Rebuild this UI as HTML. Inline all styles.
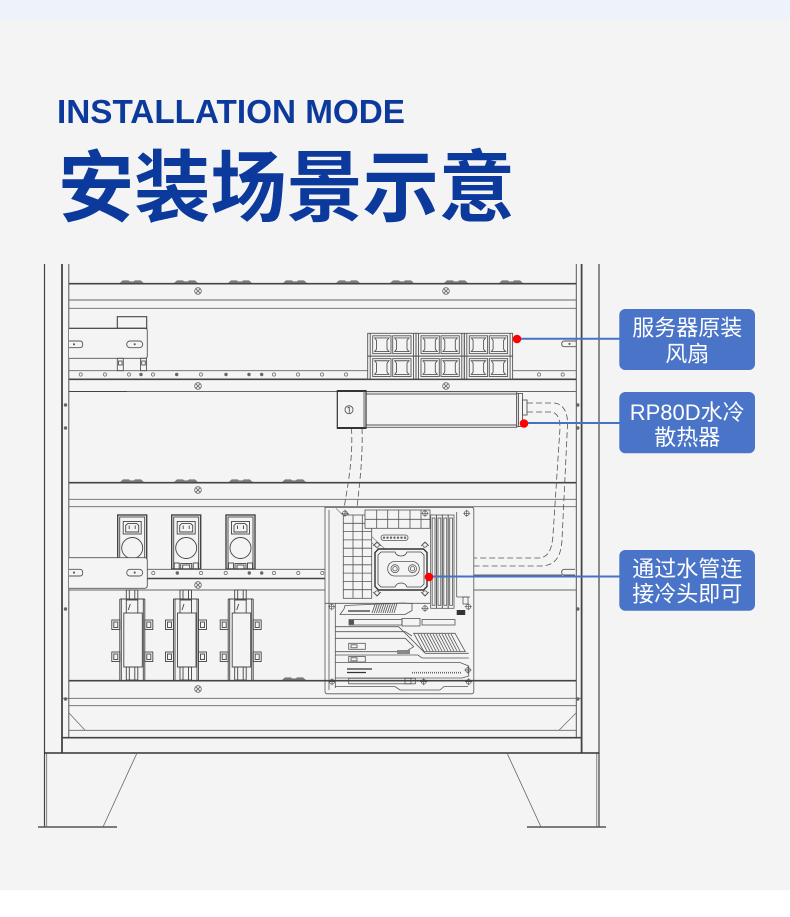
<!DOCTYPE html>
<html><head><meta charset="utf-8">
<style>
html,body{margin:0;padding:0;background:#f4f4f4;}
svg{display:block;}
</style></head>
<body>
<svg width="790" height="917" viewBox="0 0 790 917" xmlns="http://www.w3.org/2000/svg" xmlns:xlink="http://www.w3.org/1999/xlink">
<defs>
 <g id="scr" fill="none" stroke="#666" stroke-width="0.8"><circle r="3.3"/><path d="M-2.2,-2.2L2.2,2.2M-2.2,2.2L2.2,-2.2"/></g>
 <g id="pl" fill="none" stroke="#555" stroke-width="0.7"><circle r="2.4"/><path d="M-3.6,0H3.6M0,-3.6V3.6"/></g>
 <path id="bump" d="M-12,0 L-9,-2.6 L-3,-2.6 L-2,-1.6 L2,-1.6 L3,-2.6 L9,-2.6 L12,0 Z" fill="#7a7a7a"/>
 <g id="pdot"><circle r="1.7" fill="#666"/></g>
 <g id="hole"><circle r="1.6" fill="none" stroke="#666" stroke-width="0.7"/></g>
 <g id="fan" fill="none" stroke="#555" stroke-width="0.9">
   <rect x="0" y="0" width="48.3" height="22.85"/>
   <line x1="2.5" y1="0" x2="2.5" y2="22.85"/>
   <line x1="45.8" y1="0" x2="45.8" y2="22.85"/>
   <rect x="5" y="2.5" width="18.3" height="17.85"/>
   <rect x="25" y="2.5" width="18.3" height="17.85"/>
   <path d="M7,4.6 L21.3,4.6 L19.3,7 L19.3,15.9 L21.3,18.3 L7,18.3 L8.8,15.9 L8.8,7 Z"/>
   <path d="M27,4.6 L41.3,4.6 L39.3,7 L39.3,15.9 L41.3,18.3 L27,18.3 L28.8,15.9 L28.8,7 Z"/>
 </g>
 <g id="sock" stroke="#444" fill="none" stroke-width="0.9">
   <rect x="0" y="0" width="29" height="54" fill="#f4f4f4" stroke-width="1.4"/>
   <rect x="2" y="2" width="25" height="52"/>
   <rect x="5.5" y="6.5" width="18" height="12.5"/>
   <path d="M8,17 V10.5 L10,8.6 H19 L21,10.5 V17 Z"/>
   <path d="M11.5,10.5 V14 M17.5,10.5 V14"/>
   <circle cx="14.5" cy="33" r="10.5"/>
   <rect x="2.5" y="48" width="5" height="6"/>
   <rect x="21.5" y="48" width="5" height="6"/>
   <rect x="9" y="48.5" width="11" height="5.5"/>
   <rect x="11" y="50" width="7" height="4"/>
 </g>
 <g id="mod" stroke="#444" fill="none" stroke-width="0.9">
   <rect x="-6" y="0" width="11.5" height="10" fill="#f4f4f4"/>
   <path d="M-3,0 V10 M2.5,0 V10"/>
   <path d="M-12.5,9 H12.5 M-12.5,9 V90 M-11,9 V90 M11,9 V90 M12.5,9 V90"/>
   <rect x="-8.5" y="23" width="18.5" height="54"/>
   <path d="M-6,10 V23 M5.5,10 V23 M-2,14 L-4,20"/>
   <rect x="-20.5" y="30" width="8" height="9.5"/><rect x="-18.5" y="32" width="4" height="5.5"/>
   <rect x="-20.5" y="62" width="8" height="9.5"/><rect x="-18.5" y="64" width="4" height="5.5"/>
   <rect x="12.5" y="30" width="8" height="9.5"/><rect x="14.5" y="32" width="4" height="5.5"/>
   <rect x="12.5" y="62" width="8" height="9.5"/><rect x="14.5" y="64" width="4" height="5.5"/>
   <rect x="-6" y="77" width="11.5" height="13"/>
   <path d="M-3,77 V90 M2.5,77 V90"/>
 </g>
</defs>

<!-- backgrounds -->
<rect x="0" y="0" width="790" height="917" fill="#f4f4f4"/>
<rect x="0" y="0" width="790" height="19" fill="#eef3fb"/>
<rect x="0" y="890" width="790" height="27" fill="#ffffff"/>

<!-- title -->
<text x="57" y="123" font-family="Liberation Sans, sans-serif" font-weight="bold" font-size="33" fill="#0c3a9c" textLength="348" lengthAdjust="spacingAndGlyphs">INSTALLATION MODE</text>
<text x="58" y="215" font-family="Liberation Sans, Noto Sans CJK SC, sans-serif" font-weight="bold" font-size="78" fill="#0c3a9c" textLength="457" lengthAdjust="spacingAndGlyphs">安装场景示意</text>

<!-- cabinet verticals -->
<g fill="none" stroke-linecap="butt">
 <line x1="44.5" y1="264" x2="44.5" y2="827" stroke="#444" stroke-width="1.2"/>
 <line x1="46.7" y1="753" x2="46.7" y2="827" stroke="#666" stroke-width="0.8"/>
 <line x1="62" y1="264" x2="62" y2="753" stroke="#444" stroke-width="1.8"/>
 <line x1="68.8" y1="264" x2="68.8" y2="738" stroke="#555" stroke-width="1"/>
 <line x1="576.3" y1="264" x2="576.3" y2="738" stroke="#555" stroke-width="1"/>
 <line x1="581.6" y1="264" x2="581.6" y2="753" stroke="#444" stroke-width="1.8"/>
 <line x1="599" y1="264" x2="599" y2="827" stroke="#444" stroke-width="1.2"/>
 <line x1="596.8" y1="753" x2="596.8" y2="827" stroke="#666" stroke-width="0.8"/>
 <line x1="44" y1="753" x2="599.5" y2="753" stroke="#333" stroke-width="1.6"/>
 <!-- feet -->
 <line x1="137" y1="753" x2="103" y2="827" stroke="#666" stroke-width="0.8"/>
 <line x1="507" y1="753" x2="541" y2="827" stroke="#666" stroke-width="0.8"/>
 <line x1="38" y1="827" x2="117" y2="827" stroke="#555" stroke-width="1.6"/>
 <line x1="527" y1="827" x2="606" y2="827" stroke="#555" stroke-width="1.6"/>
</g>

<!-- horizontal lines -->
<g stroke="#666" stroke-width="0.9" fill="none">
 <line x1="69" y1="300" x2="576" y2="300"/>
 <line x1="69" y1="308.3" x2="576" y2="308.3"/>
 <line x1="69" y1="370.7" x2="576" y2="370.7"/>
 <line x1="69" y1="391.5" x2="576" y2="391.5"/>
 <line x1="69" y1="499.3" x2="576" y2="499.3"/>
 <line x1="69" y1="506.7" x2="576" y2="506.7"/>
 <line x1="69" y1="590" x2="576" y2="590"/>
 <line x1="474" y1="575" x2="562" y2="575"/>
 <line x1="62" y1="698.3" x2="581" y2="698.3"/>
 <line x1="69" y1="705.7" x2="576" y2="705.7"/>
 <line x1="69" y1="730.3" x2="576" y2="730.3"/>
 <line x1="69" y1="713" x2="85" y2="730.3" stroke-width="0.7"/>
 <line x1="576" y1="713" x2="559" y2="730.3" stroke-width="0.7"/>
</g>
<g stroke="#444" stroke-width="1.6" fill="none">
 <line x1="69" y1="283.7" x2="576" y2="283.7"/>
 <line x1="69" y1="379.3" x2="576" y2="379.3"/>
 <line x1="69" y1="482.7" x2="576" y2="482.7"/>
 <line x1="62" y1="737.7" x2="581" y2="737.7"/>
 <line x1="69" y1="391.5" x2="127" y2="391.5" stroke-width="1"/>
</g>

<!-- bumps -->
<use xlink:href="#bump" x="131.7" y="283"/><use xlink:href="#bump" x="186" y="283"/><use xlink:href="#bump" x="240" y="283"/><use xlink:href="#bump" x="295" y="283"/>
<use xlink:href="#bump" x="348" y="283"/><use xlink:href="#bump" x="402" y="283"/><use xlink:href="#bump" x="456" y="283"/><use xlink:href="#bump" x="511" y="283"/>
<use xlink:href="#bump" x="132" y="482"/><use xlink:href="#bump" x="186" y="482"/><use xlink:href="#bump" x="240.7" y="482"/><use xlink:href="#bump" x="294" y="482"/>
<use xlink:href="#bump" x="294" y="680"/>

<!-- screws -->
<use xlink:href="#scr" x="198" y="291"/><use xlink:href="#scr" x="446" y="291"/>
<use xlink:href="#scr" x="198" y="386"/><use xlink:href="#scr" x="446" y="386"/>
<use xlink:href="#scr" x="198" y="490"/>
<use xlink:href="#scr" x="198" y="585"/>
<use xlink:href="#scr" x="198" y="689"/>
<use xlink:href="#pdot" x="65.5" y="405"/><use xlink:href="#pdot" x="65.5" y="428"/><use xlink:href="#pdot" x="65.5" y="609"/><use xlink:href="#pdot" x="65.5" y="699"/>
<use xlink:href="#pdot" x="577.8" y="405"/><use xlink:href="#pdot" x="577.8" y="428"/><use xlink:href="#pdot" x="577.8" y="609"/><use xlink:href="#pdot" x="577.8" y="699"/>

<!-- upper rail holes -->
<g>
 <use xlink:href="#hole" x="80.7" y="374.5"/><use xlink:href="#hole" x="105" y="374.5"/><use xlink:href="#hole" x="129" y="374.5"/>
 <use xlink:href="#pdot" x="141" y="374.5"/><use xlink:href="#hole" x="153" y="374.5"/><use xlink:href="#pdot" x="176.7" y="374.5"/>
 <use xlink:href="#hole" x="201" y="374.5"/><use xlink:href="#pdot" x="226" y="374.5"/><use xlink:href="#pdot" x="249" y="374.5"/>
 <use xlink:href="#pdot" x="261.7" y="374.5"/><use xlink:href="#hole" x="274" y="374.5"/><use xlink:href="#hole" x="298" y="374.5"/>
 <use xlink:href="#hole" x="322" y="374.5"/><use xlink:href="#hole" x="346" y="374.5"/><use xlink:href="#hole" x="539" y="374.5"/><use xlink:href="#hole" x="562.7" y="374.5"/>
</g>

<!-- upper left bracket -->
<g fill="none" stroke="#555" stroke-width="0.9">
 <rect x="117.3" y="316.7" width="29.4" height="11.6" stroke="#444" stroke-width="1.1"/>
 <path d="M69,328.3 H145 Q147.3,328.3 147.3,331 V355.5 Q147.3,358.3 145,358.3 H69" fill="#f4f4f4" stroke="#555"/>
 <line x1="69" y1="328.3" x2="147.3" y2="328.3" stroke="#444" stroke-width="1.1"/>
 <rect x="117.3" y="358.3" width="6" height="12.4"/><rect x="118.5" y="361" width="3.6" height="4"/>
 <rect x="140.5" y="358.3" width="6" height="12.4"/><rect x="141.7" y="361" width="3.6" height="4"/>
 <path d="M69,341 H80 Q82.7,341 82.7,344.3 Q82.7,347.7 80,347.7 H69"/>
 <rect x="126.7" y="341" width="16" height="6.7" rx="3.3"/>
 <circle cx="134.7" cy="344.3" r="0.6" fill="#555"/>
 <circle cx="74" cy="344.3" r="0.6" fill="#555"/>
 <path d="M576,341 H564.5 Q561.7,341 561.7,343.9 Q561.7,346.7 564.5,346.7 H576"/>
 <circle cx="569.5" cy="343.9" r="0.6" fill="#555"/>
</g>

<!-- fans -->
<rect x="367.7" y="333.3" width="144.9" height="45.7" fill="#f4f4f4"/>
<use xlink:href="#fan" x="367.7" y="333.3"/><use xlink:href="#fan" x="416" y="333.3"/><use xlink:href="#fan" x="464.3" y="333.3"/>
<use xlink:href="#fan" x="367.7" y="356.15"/><use xlink:href="#fan" x="416" y="356.15"/><use xlink:href="#fan" x="464.3" y="356.15"/>

<!-- hoses -->
<g fill="none" stroke="#555" stroke-width="0.8" stroke-dasharray="6 3">
 <path d="M351.5,428 C353,455 349,480 344,508"/>
 <path d="M362,428 C363,455 360,480 357,508"/>
 <path d="M527,403 L553,403 C563,403 568,412 567.5,425 L562,540 C561,556 556,566 540,566 L474,566"/>
 <path d="M527,412 L550,412 C557,412 560,418 560,428 L553,535 C552,550 548,558 538,558 L474,558"/>
</g>

<!-- radiator -->
<g fill="none" stroke="#555" stroke-width="0.9">
 <rect x="366" y="391.7" width="150.7" height="35.6" fill="#f4f4f4"/>
 <line x1="366" y1="394" x2="516.7" y2="394"/>
 <line x1="366" y1="425" x2="516.7" y2="425"/>
 <rect x="337.3" y="390.7" width="28.7" height="37.6" fill="#f4f4f4" stroke="#333" stroke-width="1.2"/>
 <line x1="337.3" y1="391" x2="366" y2="391" stroke="#333" stroke-width="2"/>
 <line x1="337.3" y1="428" x2="366" y2="428" stroke="#333" stroke-width="2"/>
 <line x1="364" y1="391" x2="364" y2="428"/>
 <circle cx="349" cy="409.7" r="4"/>
 <path d="M349.3,406.7 V412.7 M347.6,408 L349.3,406.7"/>
 <rect x="516.7" y="393.5" width="5.8" height="33" fill="#f4f4f4"/>
 <line x1="518.5" y1="393.5" x2="518.5" y2="426.5"/>
 <rect x="522.5" y="400" width="4.5" height="15"/>
</g>

<!-- power sockets -->
<use xlink:href="#sock" x="117.7" y="515"/>
<use xlink:href="#sock" x="171.7" y="515"/>
<use xlink:href="#sock" x="226" y="515"/>

<!-- lower rail band -->
<g fill="none" stroke="#555" stroke-width="0.9">
 <line x1="147" y1="569.3" x2="325" y2="569.3"/>
 <line x1="147" y1="578.5" x2="325" y2="578.5" stroke="#444" stroke-width="1.5"/>
</g>
<use xlink:href="#hole" x="153.3" y="573"/><use xlink:href="#pdot" x="177.3" y="573"/><use xlink:href="#hole" x="201" y="573"/>
<use xlink:href="#hole" x="225.7" y="573"/><use xlink:href="#pdot" x="249.3" y="573"/><use xlink:href="#pdot" x="261.7" y="573"/>
<use xlink:href="#hole" x="274" y="573"/><use xlink:href="#hole" x="298.3" y="573"/><use xlink:href="#hole" x="322.3" y="573"/>
<path d="M575,569.3 H564.5 Q561.7,569.3 561.7,572.2 Q561.7,575 564.5,575 H575" fill="none" stroke="#555" stroke-width="0.9"/>

<!-- lower left bracket -->
<g fill="none" stroke="#555" stroke-width="0.9">
 <path d="M69,557.7 H144.5 Q147.3,557.7 147.3,560.5 V585.5 Q147.3,588.3 144.5,588.3 H69" fill="#f4f4f4"/>
 <path d="M69,569.3 H80 Q82.7,569.3 82.7,572.6 Q82.7,576 80,576 H69"/>
 <rect x="126.7" y="569.3" width="16" height="6.7" rx="3.3"/>
 <circle cx="134.7" cy="572.6" r="0.6" fill="#555"/>
 <circle cx="74" cy="572.6" r="0.6" fill="#555"/>
</g>

<!-- fuse modules -->
<use xlink:href="#mod" x="132.3" y="590"/>
<use xlink:href="#mod" x="186" y="590"/>
<use xlink:href="#mod" x="240.7" y="590"/>

<!-- motherboard -->
<g stroke="#555" stroke-width="0.8" fill="none">
 <path d="M325,507.3 H471.5 Q473.8,507.3 473.8,509.6 V691.5 Q473.8,693.8 471.5,693.8 H327.3 Q325,693.8 325,691.5 Z" fill="#f4f4f4"/>
 <path d="M329,510 V690 M335.3,603 V688 M325,603.3 H430"/>
 <path d="M336,508.5 L393,563 M345,511 L388,552" stroke="#777" stroke-width="0.6"/>
 <!-- VRM grid -->
 <rect x="343.3" y="515" width="28.4" height="83.3" fill="#f4f4f4"/>
 <path d="M353,515 V598.3 M362.3,515 V598.3"/>
 <path d="M343.3,523.3 H371.7 M343.3,531.6 H371.7 M343.3,539.9 H371.7 M343.3,548.2 H371.7 M343.3,556.5 H371.7 M343.3,564.8 H371.7 M343.3,573.1 H371.7 M343.3,581.4 H371.7 M343.3,589.7 H371.7"/>
 <!-- top heatsink -->
 <rect x="365" y="510" width="65" height="18.3" fill="#f4f4f4"/>
 <path d="M365,519.3 H430 M376.7,510 V528.3 M387.7,510 V528.3 M398.7,510 V528.3 M410,510 V528.3 M421,510 V528.3"/>
 <!-- connector dots -->
 <rect x="381" y="535" width="27" height="5.4" rx="2.5"/>
 <g fill="#666" stroke="none">
  <circle cx="384" cy="537.7" r="1.2"/><circle cx="387.5" cy="537.7" r="1.2"/><circle cx="391" cy="537.7" r="1.2"/><circle cx="394.5" cy="537.7" r="1.2"/><circle cx="398" cy="537.7" r="1.2"/><circle cx="401.5" cy="537.7" r="1.2"/><circle cx="405" cy="537.7" r="1.2"/>
 </g>
 <!-- CPU block -->
 <path d="M373,546 L377,542 L381,546 M429,546 L425,542 L421,546 M373,592 L377,596 L381,592 M429,592 L425,596 L421,592" stroke="#555"/>
 <circle cx="377" cy="545" r="2.2"/><circle cx="425" cy="545" r="2.2"/><circle cx="377" cy="593" r="2.2"/><circle cx="425" cy="593" r="2.2"/>
 <path d="M378.5,549 H423.5 L427,552.5 V586.5 L423.5,590 H378.5 L375,586.5 V552.5 Z" fill="#f4f4f4" stroke="#333" stroke-width="1.4"/>
 <path d="M381,552 H395 Q396.5,556 401,556 Q405.5,556 407,552 H421 L424,555 V584 L421,587 H407 Q405.5,583 401,583 Q396.5,583 395,587 H381 L378,584 V555 Z" stroke="#444"/>
 <rect x="387.7" y="561.5" width="31.6" height="14.5" rx="7"/>
 <circle cx="395" cy="568.7" r="4"/><circle cx="395" cy="568.7" r="2.2"/>
 <circle cx="412.5" cy="568.7" r="4"/><circle cx="412.5" cy="568.7" r="2.2"/>
 <!-- RAM -->
 <rect x="430.7" y="515" width="5.8" height="93.3"/><rect x="432.2" y="518" width="2.8" height="87.3"/>
 <rect x="436.5" y="515" width="5.8" height="93.3"/><rect x="438" y="518" width="2.8" height="87.3"/>
 <rect x="442.3" y="515" width="5.9" height="93.3"/><rect x="443.8" y="518" width="2.9" height="87.3"/>
 <rect x="448.2" y="515" width="5.8" height="93.3"/><rect x="449.7" y="518" width="2.8" height="87.3"/>
 <path d="M456.7,512 V597 M456.7,597 H470"/>
 <rect x="463" y="597" width="5" height="7"/>
 <rect x="456.7" y="610" width="8.5" height="5" fill="#333" stroke="none"/>
 <!-- screws on board -->
 <use xlink:href="#pl" x="466.7" y="513.3"/><use xlink:href="#pl" x="345" y="513.3"/><use xlink:href="#pl" x="425" y="513.3"/>
 <use xlink:href="#pl" x="331.7" y="606.7"/><use xlink:href="#pl" x="425" y="608.3"/><use xlink:href="#pl" x="468.3" y="606.7"/>
 <use xlink:href="#pl" x="332" y="681.7"/><use xlink:href="#pl" x="423.7" y="681.7"/><use xlink:href="#pl" x="468.7" y="681.7"/><use xlink:href="#pl" x="468" y="670"/>
 <!-- M.2 heatsink -->
 <path d="M345,605.5 L403,603 L412,603.5 V610.5 L405,614.5 H340 L344,609 Z"/>
 <path d="M372,613 L375,604.5 M374.2,613 L377.2,604.4 M376.4,613 L379.4,604.3 M378.6,613 L381.6,604.2 M380.8,613 L383.8,604.1 M383,613 L386,604 M385.2,613 L388.2,603.9 M387.4,613 L390.4,603.8 M389.6,613 L392.6,603.7 M391.8,613 L394.8,603.6 M394,613 L397,603.5"/>
 <path d="M348,611 H370" stroke="#333" stroke-width="1.2"/>
 <!-- slot 1 -->
 <rect x="349" y="619.5" width="53" height="5.5"/>
 <rect x="349" y="620" width="5" height="4.5" fill="#555" stroke="none"/>
 <rect x="402" y="618.5" width="18" height="7.5"/>
 <rect x="422" y="619.5" width="33" height="5.5"/>
 <!-- bands -->
 <path d="M335.3,626.7 H398.7 L425.3,653.3 H468.7"/>
 <path d="M335.3,631.7 H405.3 L412,636"/>
 <path d="M413.7,633.3 H455 L465.3,651.6 H424 Z"/>
 <path d="M418,634 L427,651 M421,634 L430,651 M424,634 L433,651 M427,634 L436,651 M430,634 L439,651 M433,634 L442,651 M436,634 L445,651 M439,634 L448,651 M442,634 L451,651 M445,634 L454,651 M448,634 L457,651 M451,634 L460,651"/>
 <path d="M335.3,638.3 H405.3 L413.7,646.7 L405.3,651.7 H335.3"/>
 <rect x="348.7" y="643.3" width="16.6" height="6"/><rect x="351" y="644.8" width="6" height="3"/>
 <rect x="397" y="650" width="13" height="4" fill="#888" stroke="none"/>
 <path d="M335.3,655 H418 L422,658 H468.7"/>
 <rect x="348.7" y="656.5" width="16.6" height="5.5"/><rect x="351" y="657.8" width="6" height="3"/>
 <path d="M335.3,662.5 H460 L468.7,666 V676 L462,678 H335.3"/>
 <path d="M347,669 H372 M347,672.5 H366" stroke="#333" stroke-width="1.2"/>
 <path d="M412,672.7 H462" stroke="#666" stroke-width="1.6" stroke-dasharray="1 1"/>
 <rect x="348.7" y="678.3" width="66.6" height="5.5"/>
 <rect x="405" y="678.3" width="6" height="5.5"/>
 <path d="M335,686.5 H395 L400,690 H440 L444,686.5 H468"/>
</g>

<!-- rail line over board -->
<line x1="69" y1="680.7" x2="576" y2="680.7" stroke="#444" stroke-width="1.6"/>

<!-- callouts -->
<g stroke="#4472c4" stroke-width="2" fill="none">
 <line x1="517" y1="338.7" x2="620" y2="338.7"/>
 <line x1="524" y1="423" x2="620" y2="423"/>
 <line x1="429" y1="576.5" x2="620" y2="576.5"/>
</g>
<g fill="#ff0000">
 <circle cx="517" cy="339" r="4.3"/>
 <circle cx="524" cy="423.5" r="4.3"/>
 <circle cx="429" cy="577" r="4.3"/>
</g>
<g fill="#4a74c8">
 <rect x="619.3" y="309" width="135.7" height="61" rx="6"/>
 <rect x="619.3" y="392" width="135.7" height="61.3" rx="6"/>
 <rect x="619.3" y="550" width="135.7" height="60.7" rx="6"/>
</g>
<g fill="#ffffff" font-family="Liberation Sans, Noto Sans CJK SC, sans-serif" font-size="22" text-anchor="middle">
 <text x="687.2" y="335.4">服务器原装</text>
 <text x="687.2" y="361.4">风扇</text>
 <text x="687.2" y="420">RP80D水冷</text>
 <text x="687.2" y="445">散热器</text>
 <text x="687.2" y="576.4">通过水管连</text>
 <text x="687.2" y="601.4">接冷头即可</text>
</g>
</svg>
</body></html>
